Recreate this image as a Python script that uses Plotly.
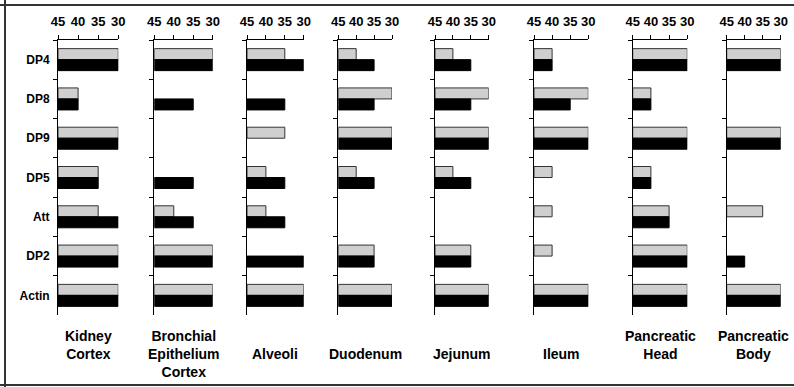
import plotly.graph_objects as go

# ---- data ----
genes = ["DP4", "DP8", "DP9", "DP5", "Att", "DP2", "Actin"]
tissues = ["Kidney<br>Cortex", "Bronchial<br>Epithelium<br>Cortex", "Alveoli", "Duodenum",
           "Jejunum", "Ileum", "Pancreatic<br>Head", "Pancreatic<br>Body"]
x_tick_values = [45, 40, 35, 30]
x_tick_labels = ["45", "40", "35", "30"]

kidney_gray = [30, 40, 30, 35, 35, 30, 30]
kidney_black = [30, 40, 30, 35, 30, 30, 30]
bronchial_gray = [30, None, None, None, 40, 30, 30]
bronchial_black = [30, 35, None, 35, 35, 30, 30]
alveoli_gray = [35, None, 35, 40, 40, None, 30]
alveoli_black = [30, 35, None, 35, 35, 30, 30]
duodenum_gray = [40, 30, 30, 40, None, 35, 30]
duodenum_black = [35, 35, 30, 35, None, 35, 30]
jejunum_gray = [40, 30, 30, 40, None, 35, 30]
jejunum_black = [35, 35, 30, 35, None, 35, 30]
ileum_gray = [40, 30, 30, 40, 40, 40, 30]
ileum_black = [40, 35, 30, None, None, None, 30]
panc_head_gray = [30, 40, 30, 40, 35, 30, 30]
panc_head_black = [30, 40, 30, 40, 35, 30, 30]
panc_body_gray = [30, None, 30, None, 35, None, 30]
panc_body_black = [30, None, 30, None, None, 40, 30]

gray_series = [kidney_gray, bronchial_gray, alveoli_gray, duodenum_gray,
               jejunum_gray, ileum_gray, panc_head_gray, panc_body_gray]
black_series = [kidney_black, bronchial_black, alveoli_black, duodenum_black,
                jejunum_black, ileum_black, panc_head_black, panc_body_black]
axis_start = 45

# ---- layout geometry (pixels) ----
W, H = 794, 387
panel_px = [(58, 118.3), (154.3, 212.7), (247, 303.7), (338.3, 392),
            (435, 488.7), (534, 588.3), (632.7, 687.3), (726.7, 780.7)]
plot_top, plot_bot = 40, 315
label_y_px = [345, 354, 354, 354, 354, 354, 345, 345]

FONT = "Liberation Sans, Arial, Helvetica, sans-serif"

fig = go.Figure()
layout = dict(
    width=W, height=H, margin=dict(l=0, r=0, t=0, b=0),
    template="none", paper_bgcolor="white", plot_bgcolor="rgba(0,0,0,0)",
    barmode="group", bargap=0.44, bargroupgap=0, showlegend=False,
    font=dict(family=FONT, color="black"),
)

ydom = [1 - plot_bot / H, 1 - plot_top / H]
annotations = []
for i in range(8):
    sfx = "" if i == 0 else str(i + 1)
    xa, ya = "x" + sfx, "y" + sfx
    g = gray_series[i]
    b = black_series[i]
    fig.add_trace(go.Bar(
        y=genes, x=[(v - axis_start) if v is not None else None for v in g],
        base=axis_start, orientation="h", xaxis=xa, yaxis=ya,
        marker=dict(color="#cfcfcf", line=dict(color="#333333", width=1)),
        name="gray"))
    fig.add_trace(go.Bar(
        y=genes, x=[(v - axis_start) if v is not None else None for v in b],
        base=axis_start, orientation="h", xaxis=xa, yaxis=ya,
        marker=dict(color="black", line=dict(color="black", width=1)),
        name="black"))
    x0, x1 = panel_px[i]
    layout["xaxis" + sfx] = dict(
        domain=[x0 / W, x1 / W], range=[45, 30], anchor=ya, side="top",
        tickmode="array", tickvals=x_tick_values, ticktext=x_tick_labels,
        ticks="outside", ticklen=4, tickcolor="black", tickwidth=1,
        showline=True, linecolor="black", linewidth=1, showgrid=False,
        zeroline=False, automargin=False, ticklabelstandoff=4,
        tickfont=dict(size=13, family=FONT, weight="bold", color="black"))
    layout["yaxis" + sfx] = dict(
        domain=ydom, anchor=xa, type="category", categoryorder="array",
        categoryarray=genes, autorange="reversed",
        tickson="boundaries", ticks="outside", ticklen=4, tickcolor="black",
        showline=True, linecolor="black", linewidth=1, showgrid=False,
        zeroline=False, automargin=False, showticklabels=(i == 0),
        ticklabelstandoff=5,
        tickfont=dict(size=12, family=FONT, weight="bold", color="black"))
    annotations.append(dict(
        text="<b>" + tissues[i] + "</b>", xref="paper", yref="paper",
        x=(x0 + x1) / 2 / W, y=1 - label_y_px[i] / H, xanchor="center",
        yanchor="middle", showarrow=False, align="center",
        font=dict(size=14, family=FONT, color="black")))

layout["annotations"] = annotations
layout["shapes"] = [
    dict(type="line", xref="paper", yref="paper", x0=5 / W, x1=5 / W,
         y0=0, y1=1, line=dict(color="#333333", width=2)),
    dict(type="line", xref="paper", yref="paper", x0=0, x1=1,
         y0=1 - 5 / H, y1=1 - 5 / H, line=dict(color="#333333", width=2)),
    dict(type="line", xref="paper", yref="paper", x0=0, x1=1,
         y0=1 - 385 / H, y1=1 - 385 / H, line=dict(color="#333333", width=2)),
]
fig.update_layout(**layout)
fig.write_html(
    "out.html",
    config={"displayModeBar": False},
    post_script="document.body.style.margin='0';document.body.style.padding='0';",
)
